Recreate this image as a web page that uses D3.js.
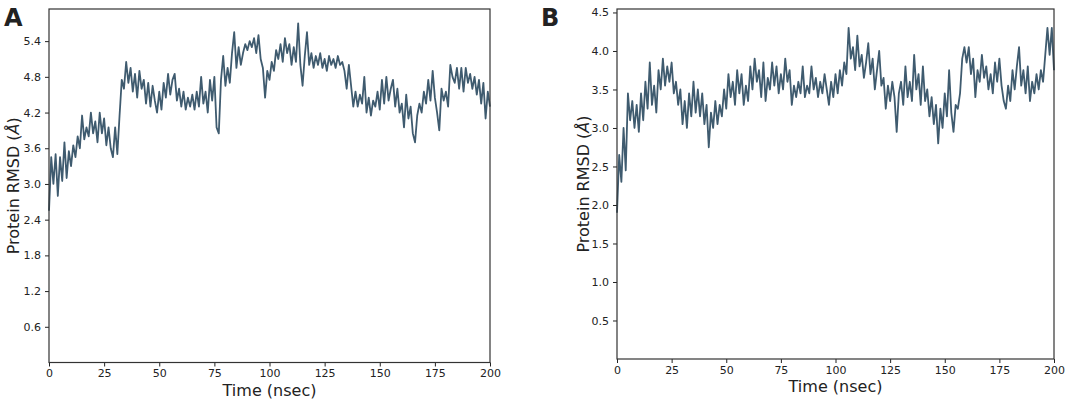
<!DOCTYPE html>
<html>
<head>
<meta charset="utf-8">
<script src="https://cdn.jsdelivr.net/npm/d3@7"></script>
<style>
  body { margin: 0; background: #fff; }
  svg text { font-family: "DejaVu Sans", sans-serif; fill: #222; }
</style>
</head>
<body>
<div class="chart"></div>
<script>
// time axis, one frame per ns
var timeNs = d3.range(0, 201);

// panel A RMSD (Å) at 1 ns steps
var rmsdA = [2.55,3.45,3.0,3.5,2.8,3.45,3.05,3.7,3.1,3.55,
  3.3,3.65,3.45,3.8,3.6,4.15,3.75,3.95,3.8,4.2,
  3.85,4.05,3.7,4.2,3.85,4.1,3.65,3.95,3.6,3.45,
  3.95,3.5,4.15,4.75,4.6,5.05,4.7,4.95,4.55,4.85,
  4.45,4.9,4.6,4.75,4.35,4.7,4.3,4.65,4.4,4.2,
  4.55,4.25,4.7,4.45,4.85,4.5,4.75,4.85,4.4,4.6,
  4.3,4.55,4.25,4.45,4.3,4.5,4.25,4.55,4.3,4.8,
  4.35,4.55,4.2,4.75,4.4,4.8,3.95,3.85,4.75,5.15,
  4.65,4.95,4.7,5.2,5.55,4.95,5.3,5.0,5.2,5.35,
  5.25,5.4,5.3,5.45,5.2,5.5,5.1,4.95,4.45,4.9,
  4.75,5.05,4.9,5.25,5.1,5.35,5.05,5.45,5.2,5.35,
  5.0,5.3,5.05,5.7,5.0,4.65,5.15,5.55,5.0,5.2,
  4.95,5.15,5.0,5.2,4.95,5.1,4.9,5.15,5.0,5.1,
  4.95,5.15,5.0,5.05,4.9,4.6,5.0,4.65,4.3,4.55,
  4.3,4.5,4.35,4.8,4.2,4.45,4.15,4.4,4.3,4.55,
  4.25,4.75,4.35,4.8,4.4,4.6,4.75,4.3,4.6,4.2,
  4.35,3.95,4.5,4.1,4.3,3.85,3.7,4.15,4.35,4.2,
  4.55,4.35,4.75,4.4,4.9,4.45,4.2,3.9,4.6,4.4,
  4.55,4.3,5.0,4.8,4.7,4.95,4.6,4.95,4.55,4.95,
  4.7,4.85,4.6,4.8,4.5,4.75,4.35,4.7,4.1,4.55,
  4.3];

// panel B RMSD (Å)
var rmsdB = [1.9,2.65,2.3,3.0,2.45,3.45,3.1,3.35,3.0,3.3,
  2.95,3.45,3.1,3.6,3.25,3.85,3.3,3.55,3.2,3.75,
  3.5,3.9,3.55,3.8,3.6,3.85,3.45,3.6,3.3,3.5,
  3.05,3.35,3.0,3.45,3.15,3.6,3.2,3.5,3.15,3.45,
  3.05,3.3,2.75,3.2,3.0,3.35,3.05,3.3,3.15,3.5,
  3.25,3.7,3.4,3.6,3.3,3.75,3.45,3.7,3.3,3.55,
  3.35,3.8,3.5,3.9,3.6,3.75,3.4,3.85,3.35,3.65,
  3.5,3.85,3.55,3.8,3.45,3.7,3.5,3.9,3.6,3.75,
  3.3,3.55,3.4,3.6,3.45,3.8,3.4,3.55,3.45,3.8,
  3.5,3.65,3.4,3.6,3.45,3.7,3.5,3.3,3.6,3.4,
  3.7,3.45,3.75,3.55,3.85,3.7,4.3,3.9,4.05,3.75,
  4.2,3.8,3.95,3.65,3.85,4.1,3.7,3.9,3.5,3.75,
  4.0,3.55,3.65,3.25,3.55,3.35,3.6,3.4,2.95,3.45,
  3.6,3.3,3.8,3.4,3.6,3.35,3.95,3.5,3.7,3.3,
  3.8,3.35,3.5,3.15,3.4,3.05,3.3,2.8,3.25,3.0,
  3.45,3.15,3.75,3.2,2.95,3.3,3.25,3.45,3.9,4.05,
  3.85,4.05,3.7,3.9,3.4,3.75,3.6,3.95,3.65,3.8,
  3.5,3.7,3.45,3.85,3.6,3.9,3.55,3.35,3.25,3.55,
  3.35,3.75,3.5,3.8,4.05,3.55,3.75,3.45,3.8,3.35,
  3.6,3.45,3.7,3.5,3.75,3.6,3.95,4.3,3.95,4.3,
  3.75];

var xTicks = [0, 25, 50, 75, 100, 125, 150, 175, 200];
var yTicksA = [0.6, 1.2, 1.8, 2.4, 3.0, 3.6, 4.2, 4.8, 5.4];
var yTicksB = [0.5, 1.0, 1.5, 2.0, 2.5, 3.0, 3.5, 4.0, 4.5];

var lineColor = "#3f5b6f";

var svg = d3.select("body div.chart").append("svg")
    .attr("width", 1065).attr("height", 400);

function drawPanel(opts) {
    var x = d3.scaleLinear().domain([0, 200]).range([opts.left, opts.right]);
    var y = d3.scaleLinear().domain([0, opts.ymax]).range([opts.bottom, opts.top]);
    var g = svg.append("g");

    var line = d3.line()
        .x(function(d, i) { return x(timeNs[i]); })
        .y(function(d) { return y(d); });

    g.append("path")
        .attr("d", line(opts.values))
        .attr("fill", "none")
        .attr("stroke", lineColor)
        .attr("stroke-width", 1.8)
        .attr("stroke-linejoin", "round");

    var xAxis = g.append("g")
        .attr("transform", "translate(0," + opts.bottom + ")")
        .call(d3.axisBottom(x).tickValues(xTicks).tickSize(4).tickPadding(3));
    var yAxis = g.append("g")
        .attr("transform", "translate(" + opts.left + ",0)")
        .call(d3.axisLeft(y).tickValues(opts.yTicks).tickFormat(d3.format(".1f")).tickSize(4).tickPadding(4));

    [xAxis, yAxis].forEach(function(a) {
        a.select(".domain").remove();
        a.selectAll("line").attr("stroke", "#222").attr("stroke-width", 1);
        a.selectAll("text").attr("font-size", 11).attr("fill", "#222")
            .attr("font-family", "DejaVu Sans, sans-serif");
    });

    // matplotlib style box
    g.append("rect")
        .attr("x", opts.left).attr("y", opts.top)
        .attr("width", opts.right - opts.left).attr("height", opts.bottom - opts.top)
        .attr("fill", "none").attr("stroke", "#333").attr("stroke-width", 1.2);

    g.append("text")
        .attr("x", (opts.left + opts.right) / 2).attr("y", opts.bottom + 33)
        .attr("text-anchor", "middle").attr("font-size", 16)
        .text("Time (nsec)");

    var yl = g.append("text")
        .attr("transform", "translate(" + opts.ylabelX + "," + ((opts.top + opts.bottom) / 2) + ") rotate(-90)")
        .attr("text-anchor", "middle").attr("font-size", 16);
    yl.append("tspan").text("Protein RMSD (");
    yl.append("tspan").attr("font-style", "italic").text("Å");
    yl.append("tspan").text(")");

    svg.append("text")
        .attr("x", opts.labelX).attr("y", 26)
        .attr("font-size", 24).attr("font-weight", "bold")
        .attr("font-family", "Liberation Sans, Arial, sans-serif")
        .text(opts.label);
}

drawPanel({values: rmsdA, yTicks: yTicksA, ymax: 5.94, left: 49, right: 490, top: 9, bottom: 362.5,
           ylabelX: 19, labelX: 4, label: "A"});
drawPanel({values: rmsdB, yTicks: yTicksB, ymax: 4.545, left: 617, right: 1054, top: 9, bottom: 359,
           ylabelX: 589, labelX: 541, label: "B"});
</script>
</body>
</html>
